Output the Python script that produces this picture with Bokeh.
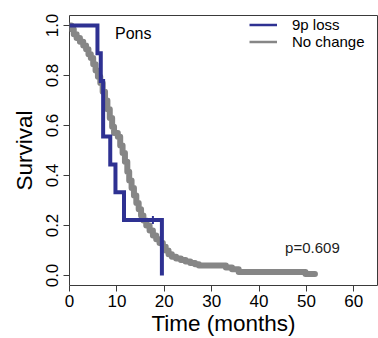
from bokeh.plotting import figure
from bokeh.models import Range1d, FixedTicker, PrintfTickFormatter, Legend, LegendItem
from bokeh.core.properties import value
from bokeh.embed import file_html
from bokeh.resources import INLINE

# Kaplan-Meier estimates, pons tumours
loss_time = [0.0, 5.9, 6.6, 7.1, 8.6, 9.7, 11.5, 19.5]
loss_surv = [1.0, 0.889, 0.778, 0.556, 0.444, 0.333, 0.222, 0.0]
loss_censor_time = [17.6]
loss_censor_surv = [0.222]

nochange_time = [0.0, 0.4, 0.9, 1.5, 2.2, 2.9, 3.5, 4.0, 4.5, 5.0, 5.5, 6.0,
                 6.5, 7.0, 7.5, 8.0, 8.5, 9.0, 9.4, 10.2, 10.7, 11.2, 11.7,
                 12.2, 12.6, 13.1, 13.6, 14.1, 14.6, 15.1, 15.6, 16.2, 16.9,
                 17.6, 18.3, 19.0, 19.7, 20.3, 20.9, 21.6, 22.5, 23.5, 24.5,
                 25.5, 26.5, 27.3, 33.0, 34.3, 35.7, 49.8, 51.8]
nochange_surv = [1.0, 0.985, 0.965, 0.95, 0.935, 0.92, 0.905, 0.885, 0.87,
                 0.845, 0.82, 0.795, 0.77, 0.735, 0.70, 0.665, 0.63, 0.595,
                 0.57, 0.555, 0.52, 0.49, 0.455, 0.415, 0.38, 0.35, 0.32,
                 0.29, 0.265, 0.24, 0.22, 0.20, 0.18, 0.16, 0.145, 0.13,
                 0.115, 0.10, 0.085, 0.075, 0.068, 0.062, 0.056, 0.05,
                 0.045, 0.04, 0.032, 0.025, 0.014, 0.006, 0.006]

x_ticks = [0, 10, 20, 30, 40, 50, 60]
y_ticks = [0.0, 0.2, 0.4, 0.6, 0.8, 1.0]
p_value_text = "p=0.609"
region_text = "Pons"
group_labels = ["9p loss", "No change"]

BLUE = "#2E3192"
GRAY = "#868686"
AXIS = "#3a3a3a"
FONT = "Liberation Sans"
NAN = float("nan")

p = figure(width=378, height=338, output_backend="svg", toolbar_location=None,
           x_range=Range1d(0, 65), y_range=Range1d(-0.04, 1.04),
           min_border_left=69, min_border_right=1, min_border_top=15,
           min_border_bottom=48)
p.background_fill_color = "white"
p.border_fill_color = "white"
p.grid.visible = False
p.outline_line_color = AXIS
p.outline_line_width = 1

for ax in (p.xaxis[0], p.yaxis[0]):
    ax.axis_line_color = None
    ax.major_tick_line_color = AXIS
    ax.major_tick_out = 6
    ax.major_tick_in = 0
    ax.minor_tick_line_color = None
    ax.major_label_text_font = FONT
    ax.major_label_text_font_size = "17px"
    ax.major_label_text_color = "black"
    ax.axis_label_text_font = FONT
    ax.axis_label_text_font_size = "22.5px"
    ax.axis_label_text_font_style = "normal"
    ax.axis_label_text_color = "black"

p.xaxis.ticker = FixedTicker(ticks=x_ticks)
p.yaxis.ticker = FixedTicker(ticks=y_ticks)
p.yaxis.formatter = PrintfTickFormatter(format="%.1f")
p.yaxis.major_label_orientation = "parallel"
p.xaxis.axis_label = "Time (months)"
p.yaxis.axis_label = "Survival"
p.xaxis.major_label_standoff = 3
p.yaxis.major_label_standoff = 6
p.xaxis.axis_label_standoff = 1
p.yaxis.axis_label_standoff = 6

r_nc = p.step(nochange_time, nochange_surv, mode="after", line_color=GRAY,
              line_width=6, line_cap="round", line_join="round")
r_loss = p.step(loss_time, loss_surv, mode="after", line_color=BLUE,
                line_width=4, line_join="miter")
p.dash(loss_censor_time, loss_censor_surv, angle=1.5708, size=8,
       line_color=BLUE, line_width=2)

# thinner stand-ins for the legend keys (no visible data)
key_loss = p.line([NAN], [NAN], line_color=BLUE, line_width=2.5)
key_nc = p.line([NAN], [NAN], line_color=GRAY, line_width=2.5)

p.text([9.6], [0.969], text=[region_text], text_font=value(FONT),
       text_font_size="16px", text_baseline="middle", text_color="black")
p.text([45.5], [0.114], text=[p_value_text], text_font=value(FONT),
       text_font_size="15px", text_baseline="middle", text_color="#222222")

legend = Legend(items=[LegendItem(label=group_labels[0], renderers=[key_loss]),
                       LegendItem(label=group_labels[1], renderers=[key_nc])],
                location=(180, 235), orientation="vertical")
legend.border_line_color = None
legend.background_fill_alpha = 0
legend.margin = 0
legend.padding = 0
legend.spacing = 0
legend.glyph_width = 28
legend.glyph_height = 17
legend.label_height = 17
legend.label_standoff = 15
legend.label_text_font = FONT
legend.label_text_font_size = "15px"
legend.label_text_color = "black"
p.add_layout(legend)

open("out.html", "w").write(file_html(p, INLINE))
